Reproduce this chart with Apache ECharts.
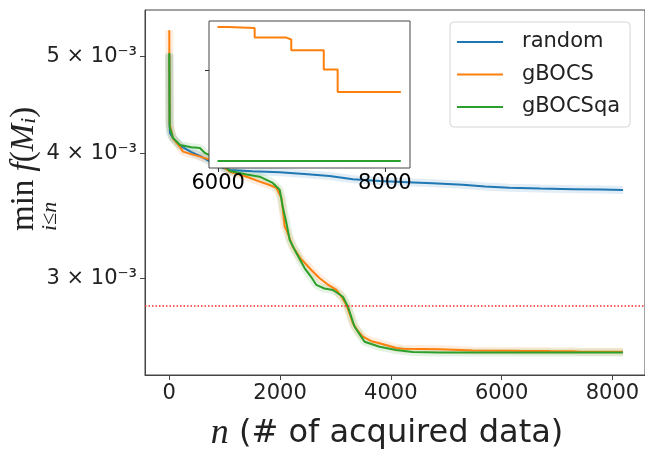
<!DOCTYPE html>
<html>
<head>
<meta charset="utf-8">
<script src="https://cdn.jsdelivr.net/npm/echarts@6/dist/echarts.min.js"></script>
<style>
  html, body { margin: 0; padding: 0; background: #fff; }
  #chart { width: 645px; height: 450px; }
</style>
</head>
<body>
<div id="chart"></div>
<script>
// n (# of acquired data) -> min f(M_i)
var randomN = [0, 5, 13, 67, 193, 400, 553, 750, 914, 1094, 1500, 1995, 2500, 2895, 3315, 3800, 4300, 4751, 5300, 5700, 6139, 6700, 7300, 7800, 8192]
var randomV = [5.02e-3, 4.30e-3, 4.19e-3, 4.14e-3, 4.07e-3, 4.01e-3, 3.975e-3, 3.92e-3, 3.878e-3, 3.849e-3, 3.838e-3, 3.830e-3, 3.812e-3, 3.796e-3, 3.768e-3, 3.752e-3, 3.742e-3, 3.733e-3, 3.720e-3, 3.705e-3, 3.695e-3, 3.688e-3, 3.683e-3, 3.679e-3, 3.676e-3]

var gbocsN = [0, 8, 67, 193, 247, 553, 854, 1094, 1400, 1634, 1800, 1935, 2025, 2085, 2115, 2229, 2370, 2566, 2715, 2850, 3016, 3120, 3196, 3260, 3315, 3400, 3495, 3650, 3796, 4097, 4216, 4877, 5477, 5992, 6120, 6438, 6817, 6877, 7267, 7434, 8192]
var gbocsV = [5.31e-3, 4.28e-3, 4.14e-3, 4.06e-3, 4.015e-3, 3.969e-3, 3.923e-3, 3.834e-3, 3.79e-3, 3.747e-3, 3.72e-3, 3.693e-3, 3.609e-3, 3.378e-3, 3.353e-3, 3.226e-3, 3.14e-3, 3.057e-3, 3.0e-3, 2.96e-3, 2.92e-3, 2.87e-3, 2.821e-3, 2.76e-3, 2.704e-3, 2.66e-3, 2.622e-3, 2.595e-3, 2.583e-3, 2.555e-3, 2.551e-3, 2.547e-3, 2.540e-3, 2.53834e-3, 2.53826e-3, 2.53752e-3, 2.53737e-3, 2.53654e-3, 2.53505e-3, 2.53333e-3, 2.53333e-3]

var gbocsqaN = [0, 8, 67, 193, 400, 553, 643, 854, 1094, 1400, 1634, 1868, 1995, 2049, 2115, 2175, 2265, 2445, 2560, 2656, 2800, 2955, 3135, 3225, 3346, 3450, 3526, 3796, 4097, 4396, 4877, 5992, 8192]
var gbocsqaV = [5.04e-3, 4.25e-3, 4.144e-3, 4.077e-3, 4.055e-3, 4.049e-3, 4.003e-3, 3.95e-3, 3.84e-3, 3.81e-3, 3.79e-3, 3.736e-3, 3.676e-3, 3.537e-3, 3.407e-3, 3.276e-3, 3.202e-3, 3.069e-3, 3.01e-3, 2.954e-3, 2.93e-3, 2.92e-3, 2.875e-3, 2.81e-3, 2.683e-3, 2.63e-3, 2.592e-3, 2.562e-3, 2.543e-3, 2.531e-3, 2.528e-3, 2.528e-3, 2.528e-3]

var threshold = 2.8135e-3
var xMin = -438
var xMax = 8589
var xTicks = [0, 2000, 4000, 6000, 8000]
var yTicks = [3e-3, 4e-3, 5e-3]
var insetStart = 5990
var insetXTicks = [6000, 8000]
var insetYTicks = [2.535e-3]

var names = ['random', 'gBOCS', 'gBOCSqa']
var colors = ['#1f77b4', '#ff7f0e', '#2ca02c']

function pairs(ns, vs) {
  return ns.map(function (n, i) { return [n, vs[i]] })
}
function tail(ns, vs) {
  return pairs(ns, vs).filter(function (p) { return p[0] >= insetStart })
}

var sans = 'DejaVu Sans'
var serif = 'Liberation Serif'
var allData = [pairs(randomN, randomV), pairs(gbocsN, gbocsV), pairs(gbocsqaN, gbocsqaV)]

var series = []
// main curves
for (var i = 0; i < names.length; i++) {
  series.push({
    name: names[i], type: 'line', xAxisIndex: 0, yAxisIndex: 0,
    data: allData[i], symbol: 'none', z: 2,
    lineStyle: { color: colors[i], width: 2 }, itemStyle: { color: colors[i] }
  })
}
// light bands round the curves
for (var i = 0; i < names.length; i++) {
  series.push({
    name: names[i] + '_band', type: 'line', xAxisIndex: 0, yAxisIndex: 0,
    data: allData[i], symbol: 'none', z: 1, silent: true,
    lineStyle: { color: colors[i], width: 8, opacity: 0.13 }
  })
}
// red dotted reference level
series.push({
  name: 'threshold', type: 'line', xAxisIndex: 0, yAxisIndex: 0,
  data: [[xMin, threshold], [xMax, threshold]], symbol: 'none', z: 2, silent: true,
  lineStyle: { color: '#ff2a2a', width: 1.5, type: [1.5, 2] }
})
// inset
series.push({
  name: 'gBOCS', type: 'line', xAxisIndex: 1, yAxisIndex: 1, step: 'end',
  data: tail(gbocsN, gbocsV), symbol: 'none', z: 4,
  lineStyle: { color: colors[1], width: 2 }
})
series.push({
  name: 'gBOCSqa', type: 'line', xAxisIndex: 1, yAxisIndex: 1, step: 'end',
  data: tail(gbocsqaN, gbocsqaV), symbol: 'none', z: 4,
  lineStyle: { color: colors[2], width: 2 }
})

var chart = echarts.init(document.getElementById('chart'))
chart.setOption({
  animation: false,
  backgroundColor: '#fff',
  grid: [
    { left: 145, right: -1, top: 10, bottom: 75, show: true, borderColor: '#444', borderWidth: 1 },
    { left: 209, top: 21, width: 201, height: 147 }
  ],
  legend: {
    data: names, orient: 'vertical', left: 450, top: 22,
    icon: 'rect', itemWidth: 46, itemHeight: 2, itemGap: 10.5,
    padding: [9, 10, 9, 7],
    backgroundColor: 'rgba(255,255,255,0.85)', borderColor: '#d4d4d4', borderWidth: 1, borderRadius: 4,
    textStyle: { fontFamily: sans, fontSize: 21, color: '#222', padding: [0, 0, 0, 14], lineHeight: 22 },
    z: 10
  },
  xAxis: [
    {
      type: 'value', gridIndex: 0, min: xMin, max: xMax,
      splitLine: { show: false },
      axisLine: { onZero: false, lineStyle: { color: '#444' } },
      axisTick: { customValues: xTicks, length: 5, lineStyle: { color: '#444' } },
      axisLabel: {
        customValues: xTicks, margin: 8, fontFamily: sans, fontSize: 21, color: '#222',
        formatter: function (v) { return String(v) }
      }
    },
    {
      type: 'value', gridIndex: 1, min: 5890, max: 8302, z: 5,
      splitLine: { show: false },
      axisLine: { show: false, onZero: false },
      axisTick: { customValues: insetXTicks, length: 4, lineStyle: { color: '#333' } },
      axisLabel: {
        customValues: insetXTicks, margin: 5, fontFamily: sans, fontSize: 21, color: '#000',
        formatter: function (v) { return String(v) }
      }
    }
  ],
  yAxis: [
    {
      type: 'log', logBase: 10, gridIndex: 0, min: 2.4008e-3, max: 5.563e-3,
      splitLine: { show: false }, minorTick: { show: false },
      axisLine: { onZero: false, lineStyle: { color: '#444' } },
      axisTick: { customValues: yTicks, length: 5, lineStyle: { color: '#444' } },
      axisLabel: {
        customValues: yTicks, margin: 8, fontFamily: sans, fontSize: 21, color: '#222',
        formatter: function (v) { return Math.round(v * 1000) + ' \u00d7 10\u207b\u00b3' }
      }
    },
    {
      type: 'value', gridIndex: 1, min: 2.52746e-3, max: 2.5388e-3, z: 5,
      splitLine: { show: false },
      axisLine: { show: false, onZero: false },
      axisTick: { customValues: insetYTicks, length: 4, lineStyle: { color: '#333' } },
      axisLabel: { show: false }
    }
  ],
  graphic: [
    {
      type: 'rect', z: 3, silent: true,
      shape: { x: 209, y: 21, width: 201, height: 147 },
      style: { fill: '#fff', stroke: '#444', lineWidth: 1 }
    },
    {
      type: 'text', z: 3, x: 387, y: 434,
      style: {
        text: '{i|n} (# of acquired data)',
        align: 'center', verticalAlign: 'middle',
        font: '32px "DejaVu Sans"', fill: '#222',
        rich: { i: { fontFamily: serif, fontStyle: 'italic', fontSize: 36, fill: '#222' } }
      }
    },
    {
      type: 'text', x: 9, y: 231, rotation: Math.PI / 2,
      style: {
        text: '{r|min }{i|f}{r|(}{i|M}{s|i}{r|)}\n{b|i\u2264n}',
        align: 'left', verticalAlign: 'top', fill: '#222',
        rich: {
          r: { fontFamily: serif, fontSize: 33, lineHeight: 31, fill: '#222' },
          i: { fontFamily: serif, fontStyle: 'italic', fontSize: 33, lineHeight: 31, fill: '#222' },
          s: { fontFamily: serif, fontStyle: 'italic', fontSize: 22, lineHeight: 31, verticalAlign: 'bottom', fill: '#222' },
          b: { fontFamily: serif, fontStyle: 'italic', fontSize: 22, lineHeight: 20, fill: '#222' }
        }
      }
    }
  ],
  series: series
})
</script>
</body>
</html>
